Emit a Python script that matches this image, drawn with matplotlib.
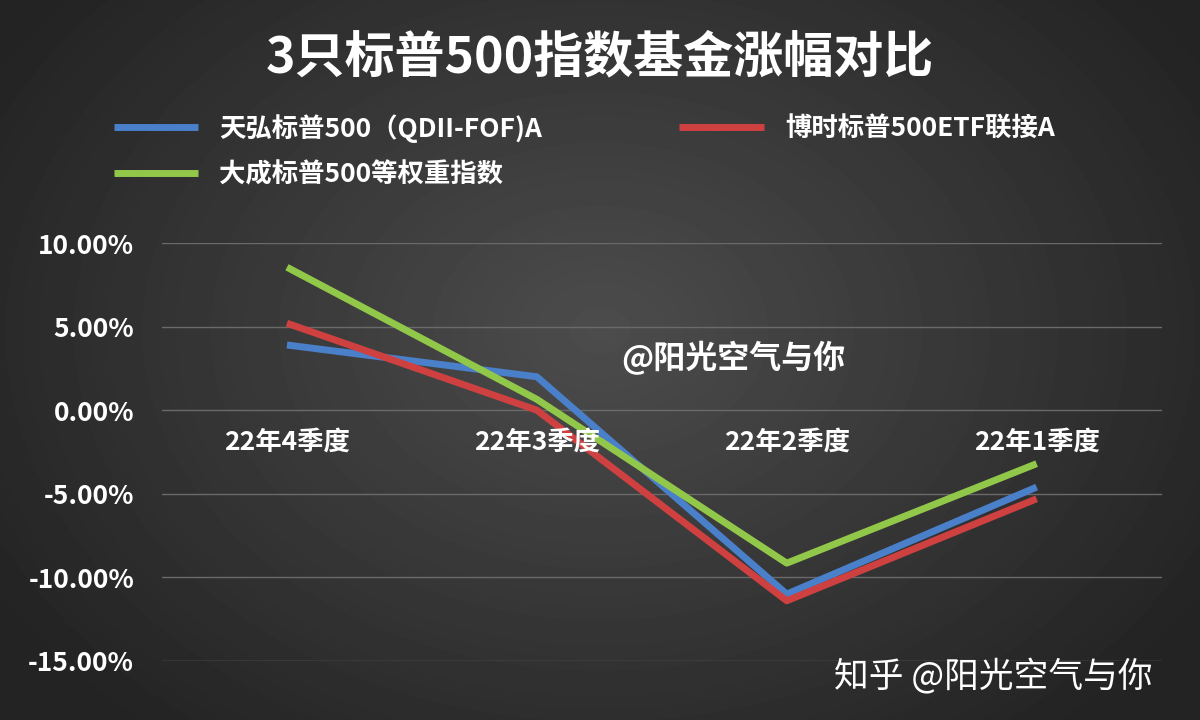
import numpy as np
import matplotlib.pyplot as plt

plt.rcParams['font.family'] = ['Noto Sans CJK SC', 'DejaVu Sans']

quarters = ["22年4季度", "22年3季度", "22年2季度", "22年1季度"]
tianhong = [3.9, 2.0, -11.0, -4.6]
boshi = [5.2, 0.0, -11.4, -5.3]
dacheng = [8.55, 0.65, -9.15, -3.2]
series_names = ["天弘标普500（QDII-FOF)A", "博时标普500ETF联接A", "大成标普500等权重指数"]
colors = ["#4a7fc9", "#cf4141", "#92c84a"]
yticks = [10, 5, 0, -5, -10, -15]

fig = plt.figure(figsize=(12, 7.2), dpi=100)

# dark radial background
bg = fig.add_axes([0, 0, 1, 1], zorder=-10)
yy, xx = np.mgrid[0:720, 0:1200]
r = np.sqrt(((xx - 600) / 700) ** 2 + ((yy - 330) / 520) ** 2)
bg.imshow(0.30 - 0.16 * np.clip(r, 0, 1), cmap="gray", vmin=0, vmax=1, aspect="auto")
bg.axis("off")

ax = fig.add_axes([0.135, 0.082, 0.833, 0.5805])
ax.patch.set_alpha(0)
x = np.arange(len(quarters))
lines = []
for vals, c, name in zip([tianhong, boshi, dacheng], colors, series_names):
    lines += ax.plot(x, vals, color=c, lw=5, label=name, solid_capstyle="butt")

ax.set_xlim(-0.5, 3.5)
ax.set_ylim(-15, 10)
ax.set_yticks(yticks)
ax.set_yticklabels([f"{v:.2f}%" for v in yticks], color="white", fontsize=19, fontweight="bold")
ax.tick_params(length=0, pad=20)
ax.set_xticks([])
ax.grid(axis="y", color="#6a6a6a", lw=1)
for s in ax.spines.values():
    s.set_visible(False)
for i, q in enumerate(quarters):
    ax.text(i, -1.1, q, ha="center", va="top", color="white", fontsize=19, fontweight="bold")

fig.text(0.5, 0.92, "3只标普500指数基金涨幅对比", ha="center", va="center",
         color="white", fontsize=36, fontweight="bold")
order = [0, 2, 1]
fig.legend([lines[i] for i in order], [series_names[i] for i in order],
           loc="upper left", bbox_to_anchor=(0.075, 0.875), ncol=2, frameon=False,
           labelcolor="white", handlelength=3.2, columnspacing=5.2, labelspacing=0.7,
           prop={"weight": "bold", "size": 19})
fig.text(0.518, 0.488, "@阳光空气与你", color="white", fontsize=23, fontweight="bold")
fig.text(0.695, 0.045, "知乎 @阳光空气与你", color="white", fontsize=25)

fig.savefig("out.png")
